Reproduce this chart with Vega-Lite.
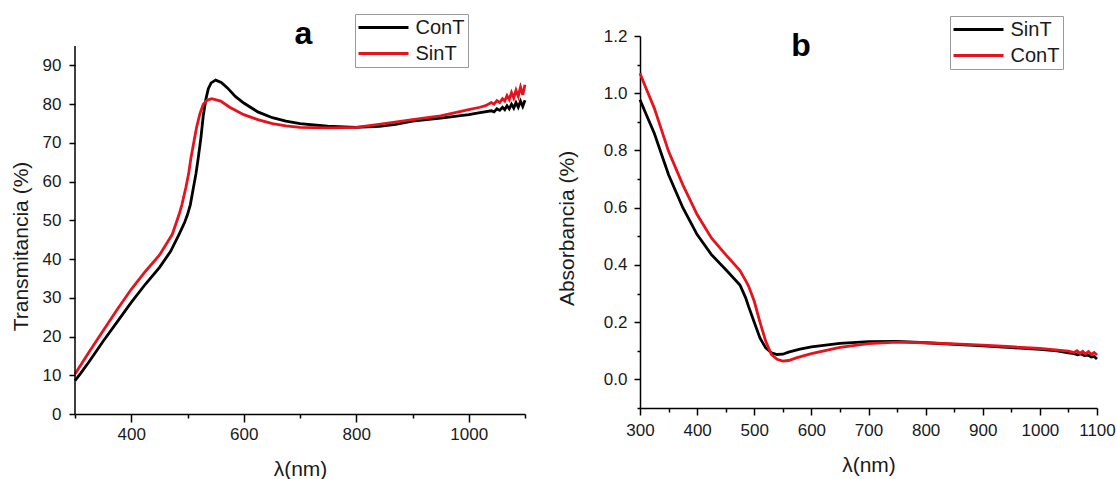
{
  "$schema": "https://vega.github.io/schema/vega-lite/v6.json",
  "padding": {"left": 10, "top": 13, "right": 0, "bottom": 0},
  "background": "white",
  "spacing": 25,
  "datasets": {
    "trans": [
      {"wl": 300, "serie": "ConT", "v": 8.6}, {"wl": 310, "serie": "ConT", "v": 10.5}, {"wl": 325, "serie": "ConT", "v": 13.5}, {"wl": 350, "serie": "ConT", "v": 18.8}, {"wl": 375, "serie": "ConT", "v": 23.8}, {"wl": 400, "serie": "ConT", "v": 28.8}, {"wl": 425, "serie": "ConT", "v": 33.5}, {"wl": 450, "serie": "ConT", "v": 37.8}, {"wl": 470, "serie": "ConT", "v": 42}, {"wl": 485, "serie": "ConT", "v": 46.4}, {"wl": 495, "serie": "ConT", "v": 49.5}, {"wl": 500, "serie": "ConT", "v": 51.5}, {"wl": 505, "serie": "ConT", "v": 54}, {"wl": 510, "serie": "ConT", "v": 58}, {"wl": 515, "serie": "ConT", "v": 62}, {"wl": 519, "serie": "ConT", "v": 66}, {"wl": 524, "serie": "ConT", "v": 71.5}, {"wl": 528, "serie": "ConT", "v": 77}, {"wl": 533, "serie": "ConT", "v": 81.5}, {"wl": 537, "serie": "ConT", "v": 84}, {"wl": 542, "serie": "ConT", "v": 85.5}, {"wl": 550, "serie": "ConT", "v": 86.2}, {"wl": 560, "serie": "ConT", "v": 85.6}, {"wl": 571, "serie": "ConT", "v": 84.2}, {"wl": 585, "serie": "ConT", "v": 82}, {"wl": 600, "serie": "ConT", "v": 80.3}, {"wl": 625, "serie": "ConT", "v": 78}, {"wl": 651, "serie": "ConT", "v": 76.5}, {"wl": 675, "serie": "ConT", "v": 75.6}, {"wl": 700, "serie": "ConT", "v": 75}, {"wl": 749, "serie": "ConT", "v": 74.3}, {"wl": 800, "serie": "ConT", "v": 74}, {"wl": 841, "serie": "ConT", "v": 74.3}, {"wl": 870, "serie": "ConT", "v": 74.8}, {"wl": 900, "serie": "ConT", "v": 75.6}, {"wl": 950, "serie": "ConT", "v": 76.4}, {"wl": 1000, "serie": "ConT", "v": 77.3}, {"wl": 1020, "serie": "ConT", "v": 77.8}, {"wl": 1040, "serie": "ConT", "v": 78.3}, {"wl": 1045, "serie": "ConT", "v": 78.0}, {"wl": 1050, "serie": "ConT", "v": 78.8}, {"wl": 1055, "serie": "ConT", "v": 78.4}, {"wl": 1060, "serie": "ConT", "v": 79.2}, {"wl": 1064, "serie": "ConT", "v": 78.6}, {"wl": 1068, "serie": "ConT", "v": 79.6}, {"wl": 1072, "serie": "ConT", "v": 78.8}, {"wl": 1076, "serie": "ConT", "v": 80.0}, {"wl": 1080, "serie": "ConT", "v": 79.0}, {"wl": 1084, "serie": "ConT", "v": 80.4}, {"wl": 1088, "serie": "ConT", "v": 79.2}, {"wl": 1092, "serie": "ConT", "v": 80.8}, {"wl": 1096, "serie": "ConT", "v": 79.4}, {"wl": 1100, "serie": "ConT", "v": 81.0},
      {"wl": 300, "serie": "SinT", "v": 10.3}, {"wl": 325, "serie": "SinT", "v": 16}, {"wl": 350, "serie": "SinT", "v": 21.5}, {"wl": 375, "serie": "SinT", "v": 27}, {"wl": 400, "serie": "SinT", "v": 32.2}, {"wl": 425, "serie": "SinT", "v": 36.8}, {"wl": 450, "serie": "SinT", "v": 41}, {"wl": 473, "serie": "SinT", "v": 46.4}, {"wl": 485, "serie": "SinT", "v": 51.5}, {"wl": 490, "serie": "SinT", "v": 54}, {"wl": 497, "serie": "SinT", "v": 58.4}, {"wl": 502, "serie": "SinT", "v": 62}, {"wl": 506, "serie": "SinT", "v": 66}, {"wl": 511, "serie": "SinT", "v": 70}, {"wl": 516, "serie": "SinT", "v": 73.9}, {"wl": 522, "serie": "SinT", "v": 77.5}, {"wl": 528, "serie": "SinT", "v": 80}, {"wl": 535, "serie": "SinT", "v": 81}, {"wl": 543, "serie": "SinT", "v": 81.4}, {"wl": 559, "serie": "SinT", "v": 80.8}, {"wl": 575, "serie": "SinT", "v": 79.2}, {"wl": 600, "serie": "SinT", "v": 77.3}, {"wl": 625, "serie": "SinT", "v": 76}, {"wl": 651, "serie": "SinT", "v": 75}, {"wl": 675, "serie": "SinT", "v": 74.4}, {"wl": 700, "serie": "SinT", "v": 74}, {"wl": 750, "serie": "SinT", "v": 73.9}, {"wl": 800, "serie": "SinT", "v": 74}, {"wl": 850, "serie": "SinT", "v": 75}, {"wl": 900, "serie": "SinT", "v": 76}, {"wl": 950, "serie": "SinT", "v": 77}, {"wl": 1000, "serie": "SinT", "v": 78.6}, {"wl": 1020, "serie": "SinT", "v": 79.2}, {"wl": 1030, "serie": "SinT", "v": 79.6}, {"wl": 1040, "serie": "SinT", "v": 80.4}, {"wl": 1045, "serie": "SinT", "v": 80.0}, {"wl": 1050, "serie": "SinT", "v": 80.9}, {"wl": 1055, "serie": "SinT", "v": 80.4}, {"wl": 1060, "serie": "SinT", "v": 81.4}, {"wl": 1064, "serie": "SinT", "v": 80.8}, {"wl": 1068, "serie": "SinT", "v": 82.2}, {"wl": 1072, "serie": "SinT", "v": 81.2}, {"wl": 1076, "serie": "SinT", "v": 83.0}, {"wl": 1080, "serie": "SinT", "v": 81.6}, {"wl": 1084, "serie": "SinT", "v": 83.6}, {"wl": 1088, "serie": "SinT", "v": 82.0}, {"wl": 1092, "serie": "SinT", "v": 84.4}, {"wl": 1096, "serie": "SinT", "v": 82.4}, {"wl": 1100, "serie": "SinT", "v": 85.0}
    ],
    "abs": [
      {"wl": 300, "serie": "SinT", "v": 0.977}, {"wl": 310, "serie": "SinT", "v": 0.93}, {"wl": 325, "serie": "SinT", "v": 0.86}, {"wl": 350, "serie": "SinT", "v": 0.715}, {"wl": 375, "serie": "SinT", "v": 0.6}, {"wl": 400, "serie": "SinT", "v": 0.506}, {"wl": 425, "serie": "SinT", "v": 0.436}, {"wl": 450, "serie": "SinT", "v": 0.384}, {"wl": 475, "serie": "SinT", "v": 0.33}, {"wl": 485, "serie": "SinT", "v": 0.285}, {"wl": 490, "serie": "SinT", "v": 0.255}, {"wl": 500, "serie": "SinT", "v": 0.2}, {"wl": 510, "serie": "SinT", "v": 0.145}, {"wl": 520, "serie": "SinT", "v": 0.11}, {"wl": 530, "serie": "SinT", "v": 0.093}, {"wl": 540, "serie": "SinT", "v": 0.087}, {"wl": 550, "serie": "SinT", "v": 0.088}, {"wl": 560, "serie": "SinT", "v": 0.095}, {"wl": 580, "serie": "SinT", "v": 0.106}, {"wl": 600, "serie": "SinT", "v": 0.114}, {"wl": 650, "serie": "SinT", "v": 0.126}, {"wl": 700, "serie": "SinT", "v": 0.132}, {"wl": 750, "serie": "SinT", "v": 0.133}, {"wl": 800, "serie": "SinT", "v": 0.128}, {"wl": 850, "serie": "SinT", "v": 0.122}, {"wl": 900, "serie": "SinT", "v": 0.117}, {"wl": 950, "serie": "SinT", "v": 0.111}, {"wl": 1000, "serie": "SinT", "v": 0.105}, {"wl": 1030, "serie": "SinT", "v": 0.1}, {"wl": 1050, "serie": "SinT", "v": 0.093}, {"wl": 1060, "serie": "SinT", "v": 0.09}, {"wl": 1066, "serie": "SinT", "v": 0.086}, {"wl": 1072, "serie": "SinT", "v": 0.089}, {"wl": 1078, "serie": "SinT", "v": 0.083}, {"wl": 1084, "serie": "SinT", "v": 0.085}, {"wl": 1090, "serie": "SinT", "v": 0.078}, {"wl": 1095, "serie": "SinT", "v": 0.08}, {"wl": 1100, "serie": "SinT", "v": 0.071},
      {"wl": 300, "serie": "ConT", "v": 1.07}, {"wl": 310, "serie": "ConT", "v": 1.02}, {"wl": 325, "serie": "ConT", "v": 0.948}, {"wl": 350, "serie": "ConT", "v": 0.797}, {"wl": 375, "serie": "ConT", "v": 0.68}, {"wl": 400, "serie": "ConT", "v": 0.576}, {"wl": 425, "serie": "ConT", "v": 0.494}, {"wl": 450, "serie": "ConT", "v": 0.436}, {"wl": 475, "serie": "ConT", "v": 0.38}, {"wl": 485, "serie": "ConT", "v": 0.345}, {"wl": 490, "serie": "ConT", "v": 0.326}, {"wl": 500, "serie": "ConT", "v": 0.273}, {"wl": 510, "serie": "ConT", "v": 0.2}, {"wl": 520, "serie": "ConT", "v": 0.134}, {"wl": 530, "serie": "ConT", "v": 0.087}, {"wl": 540, "serie": "ConT", "v": 0.07}, {"wl": 550, "serie": "ConT", "v": 0.064}, {"wl": 560, "serie": "ConT", "v": 0.066}, {"wl": 575, "serie": "ConT", "v": 0.076}, {"wl": 600, "serie": "ConT", "v": 0.09}, {"wl": 650, "serie": "ConT", "v": 0.112}, {"wl": 700, "serie": "ConT", "v": 0.125}, {"wl": 750, "serie": "ConT", "v": 0.13}, {"wl": 800, "serie": "ConT", "v": 0.128}, {"wl": 850, "serie": "ConT", "v": 0.124}, {"wl": 900, "serie": "ConT", "v": 0.12}, {"wl": 950, "serie": "ConT", "v": 0.114}, {"wl": 1000, "serie": "ConT", "v": 0.108}, {"wl": 1050, "serie": "ConT", "v": 0.099}, {"wl": 1060, "serie": "ConT", "v": 0.094}, {"wl": 1065, "serie": "ConT", "v": 0.1}, {"wl": 1070, "serie": "ConT", "v": 0.091}, {"wl": 1075, "serie": "ConT", "v": 0.098}, {"wl": 1080, "serie": "ConT", "v": 0.089}, {"wl": 1085, "serie": "ConT", "v": 0.097}, {"wl": 1090, "serie": "ConT", "v": 0.087}, {"wl": 1095, "serie": "ConT", "v": 0.094}, {"wl": 1100, "serie": "ConT", "v": 0.085}
    ]
  },
  "hconcat": [
    {
      "width": 450,
      "height": 378,
      "layer": [
        {
          "data": {"name": "trans"},
          "mark": {"type": "line", "strokeWidth": 2.8, "interpolate": "linear"},
          "encoding": {
            "x": {"field": "wl", "type": "quantitative", "scale": {"domain": [300, 1100], "nice": false, "zero": false},
              "axis": {"title": "λ(nm)", "format": "d", "values": [300, 400, 500, 600, 700, 800, 900, 1000, 1100], "labelExpr": "datum.value % 200 === 0 ? datum.label : ''", "tickSize": {"condition": {"test": "datum.value % 200 === 0", "value": 8}, "value": 4}, "labelPadding": 4, "titlePadding": 16}},
            "y": {"field": "v", "type": "quantitative", "scale": {"domain": [0, 97.6], "nice": false, "zero": false},
              "axis": {"title": "Transmitancia (%)", "domain": false, "values": [0, 5, 10, 15, 20, 25, 30, 35, 40, 45, 50, 55, 60, 65, 70, 75, 80, 85, 90, 95], "labelExpr": "datum.value % 10 === 0 ? datum.label : ''", "tickSize": {"condition": {"test": "datum.value % 10 === 0", "value": 6}, "value": 3}, "labelPadding": 8, "titlePadding": 11, "titleY": 210}},
            "color": {"field": "serie", "type": "nominal", "scale": {"domain": ["ConT", "SinT"], "range": ["#000000", "#e5131d"]},
              "legend": {"legendX": 280, "legendY": -22}}
          }
        },
        {
          "data": {"values": [{}]},
          "mark": {"type": "rule", "strokeWidth": 1.5, "color": "#000"},
          "encoding": {"x": {"datum": 300}, "y": {"datum": 0}, "y2": {"datum": 95}}
        },
        {
          "data": {"values": [{}]},
          "mark": {"type": "text", "fontSize": 32, "fontWeight": "bold", "font": "Liberation Sans", "color": "#000", "align": "center", "baseline": "alphabetic"},
          "encoding": {"x": {"datum": 706}, "y": {"datum": 95.5}, "text": {"value": "a"}}
        }
      ]
    },
    {
      "width": 457,
      "height": 372,
      "layer": [
        {
          "data": {"name": "abs"},
          "mark": {"type": "line", "strokeWidth": 2.8, "interpolate": "linear"},
          "encoding": {
            "x": {"field": "wl", "type": "quantitative", "scale": {"domain": [300, 1100], "nice": false, "zero": false},
              "axis": {"title": "λ(nm)", "format": "d", "values": [300, 350, 400, 450, 500, 550, 600, 650, 700, 750, 800, 850, 900, 950, 1000, 1050, 1100], "labelExpr": "datum.value % 100 === 0 ? datum.label : ''", "tickSize": {"condition": {"test": "datum.value % 100 === 0", "value": 7}, "value": 4}, "labelPadding": 7, "titlePadding": 16}},
            "y": {"field": "v", "type": "quantitative", "scale": {"domain": [-0.1, 1.2], "nice": false, "zero": false},
              "axis": {"title": "Absorbancia (%)", "format": ".1f", "values": [-0.1, 0, 0.1, 0.2, 0.3, 0.4, 0.5, 0.6, 0.7, 0.8, 0.9, 1.0, 1.1, 1.2], "labelExpr": "(datum.value * 10 + 100.5) % 2 < 1 ? datum.label : ''", "tickSize": {"condition": {"test": "(datum.value * 10 + 100.5) % 2 < 1", "value": 6}, "value": 3}, "labelPadding": 7, "titlePadding": 26, "titleY": 192}},
            "color": {"field": "serie", "type": "nominal", "scale": {"domain": ["SinT", "ConT"], "range": ["#000000", "#e5131d"]},
              "legend": {"legendX": 310, "legendY": -20}}
          }
        },
        {
          "data": {"values": [{}]},
          "mark": {"type": "text", "fontSize": 32, "fontWeight": "bold", "font": "Liberation Sans", "color": "#000", "align": "center", "baseline": "alphabetic"},
          "encoding": {
            "x": {"datum": 582, "type": "quantitative", "scale": {"domain": [300, 1100], "nice": false, "zero": false},
              "axis": {"title": "λ(nm)", "format": "d", "values": [300, 350, 400, 450, 500, 550, 600, 650, 700, 750, 800, 850, 900, 950, 1000, 1050, 1100], "labelExpr": "datum.value % 100 === 0 ? datum.label : ''", "tickSize": {"condition": {"test": "datum.value % 100 === 0", "value": 7}, "value": 4}, "labelPadding": 7, "titlePadding": 16}},
            "y": {"datum": 1.13, "type": "quantitative", "scale": {"domain": [-0.1, 1.2], "nice": false, "zero": false},
              "axis": {"title": "Absorbancia (%)", "format": ".1f", "values": [-0.1, 0, 0.1, 0.2, 0.3, 0.4, 0.5, 0.6, 0.7, 0.8, 0.9, 1.0, 1.1, 1.2], "labelExpr": "(datum.value * 10 + 100.5) % 2 < 1 ? datum.label : ''", "tickSize": {"condition": {"test": "(datum.value * 10 + 100.5) % 2 < 1", "value": 6}, "value": 3}, "labelPadding": 7, "titlePadding": 26, "titleY": 192}},
            "text": {"value": "b"}
          }
        }
      ]
    }
  ],
  "resolve": {"scale": {"color": "independent", "x": "independent", "y": "independent"}, "legend": {"color": "independent"}},
  "config": {
    "view": {"stroke": null},
    "font": "Liberation Sans",
    "axis": {"grid": false, "domainColor": "#000", "domainWidth": 1.5, "tickColor": "#000", "tickWidth": 1.5, "labelColor": "#1a1a1a", "labelFont": "Liberation Sans", "labelFontSize": 17, "labelFlush": false, "labelOverlap": false, "titleFont": "Liberation Sans", "titleFontSize": 21, "titleFontWeight": "normal", "titleColor": "#1a1a1a"},
    "legend": {"orient": "none", "title": null, "strokeColor": "#9a9a9a", "fillColor": "white", "padding": 3.5, "symbolType": "M-2,0H8", "symbolSize": 100, "symbolStrokeWidth": 2.8, "labelFontSize": 20, "labelFont": "Liberation Sans", "labelColor": "#1a1a1a", "labelOffset": 37, "rowPadding": 6}
  }
}
